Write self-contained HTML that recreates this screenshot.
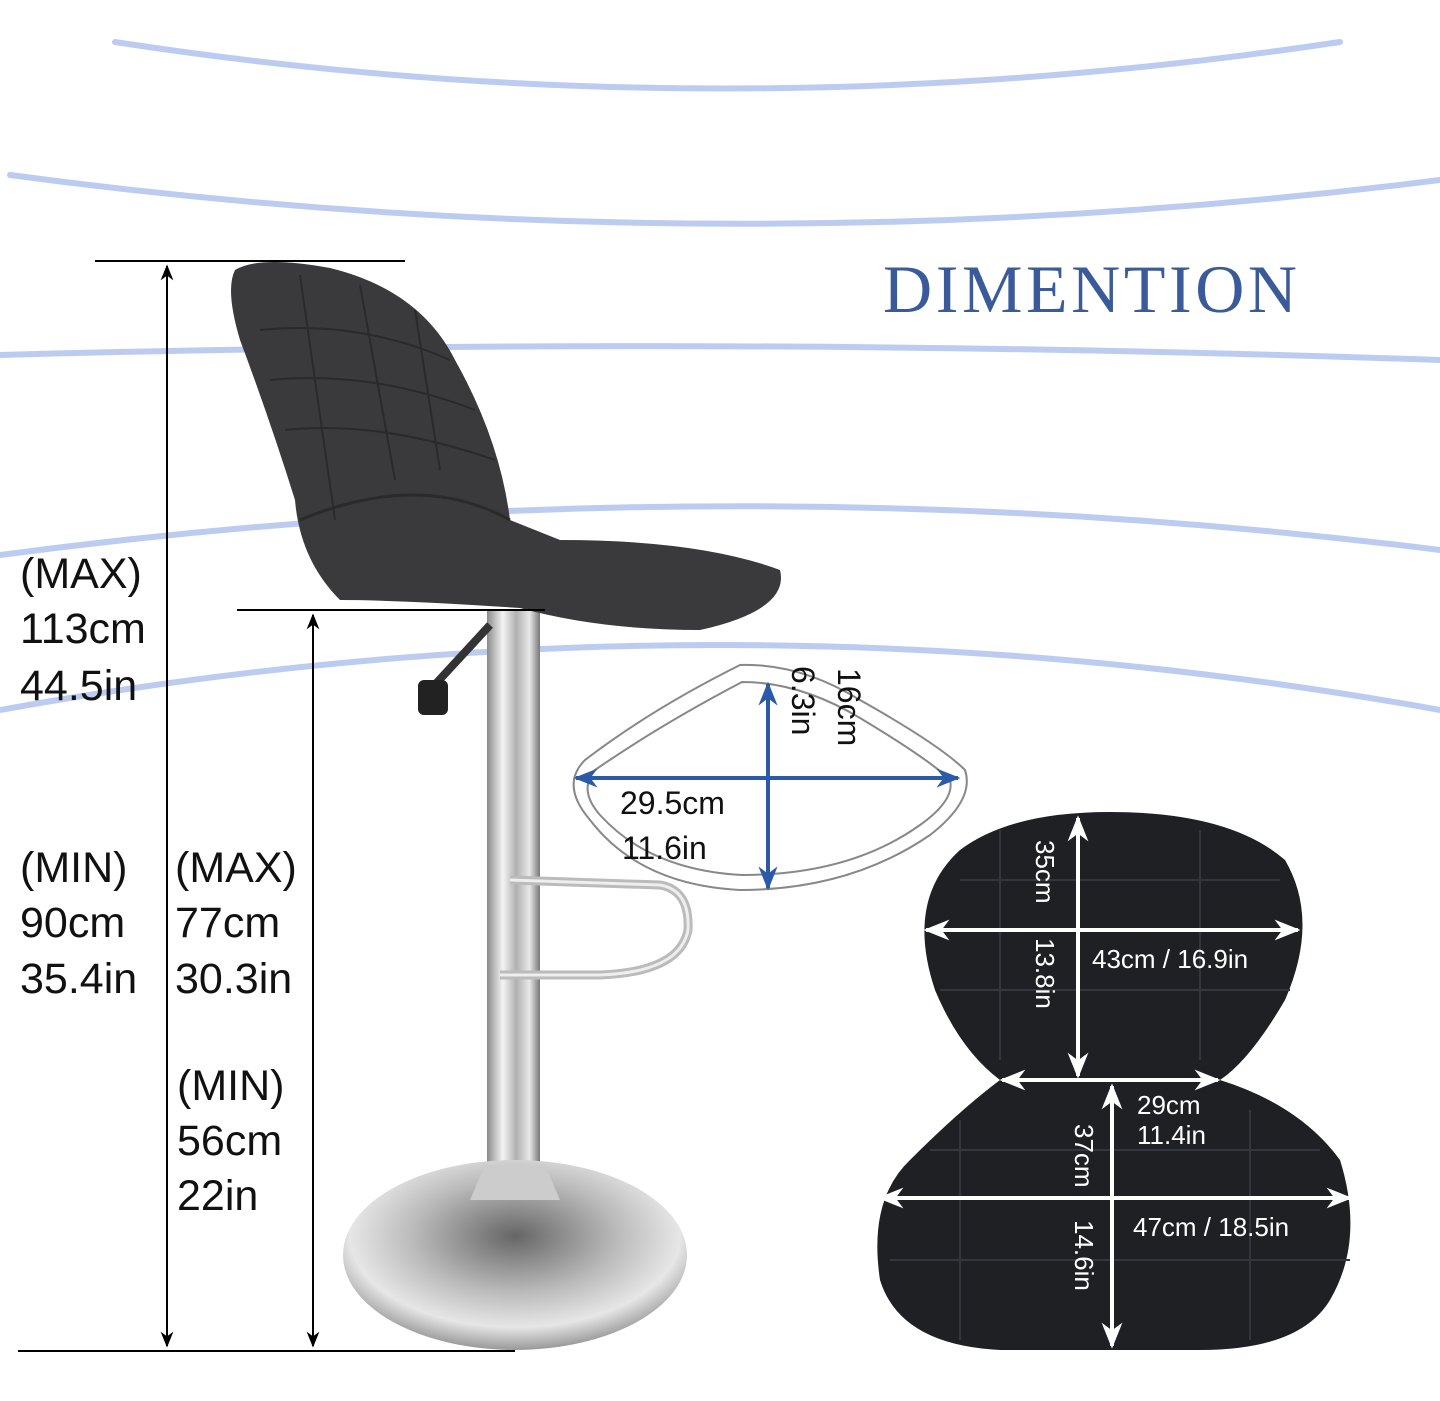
<!DOCTYPE html>
<html><head><meta charset="utf-8"><style>
html,body{margin:0;padding:0;background:#fff;}
svg{display:block;}
</style></head><body>
<svg width="1440" height="1401" viewBox="0 0 1440 1401" xmlns="http://www.w3.org/2000/svg" font-family="Liberation Sans, sans-serif">
<defs>
<linearGradient id="chrome" x1="0" x2="1" y1="0" y2="0">
<stop offset="0" stop-color="#8a8a8a"/><stop offset="0.3" stop-color="#f4f4f4"/><stop offset="0.55" stop-color="#b0b0b0"/><stop offset="0.8" stop-color="#e8e8e8"/><stop offset="1" stop-color="#777"/>
</linearGradient>
<radialGradient id="base" cx="0.5" cy="0.4" r="0.6">
<stop offset="0" stop-color="#666"/><stop offset="0.5" stop-color="#bbb"/><stop offset="0.8" stop-color="#e6e6e6"/><stop offset="1" stop-color="#999"/>
</radialGradient>
<marker id="ak" viewBox="0 0 10 10" refX="9" refY="5" markerWidth="8" markerHeight="8" orient="auto-start-reverse"><path d="M0,1 L10,5 L0,9 L3,5z" fill="#000"/></marker>
<marker id="ab" viewBox="0 0 10 10" refX="9" refY="5" markerWidth="6" markerHeight="6" orient="auto-start-reverse"><path d="M0,1 L10,5 L0,9 L3,5z" fill="#2b5aa8"/></marker>
<marker id="aw" viewBox="0 0 10 10" refX="9" refY="5" markerWidth="6.5" markerHeight="6.5" orient="auto-start-reverse"><path d="M0,1 L10,5 L0,9 L3,5z" fill="#fff"/></marker>
</defs>
<g fill="none" stroke="#bccbf0" stroke-width="6" stroke-linecap="round">
<path d="M115,42 Q720,135 1340,42"/>
<path d="M10,175 Q720,270 1440,180"/>
<path d="M0,355 Q720,335 1440,360"/>
<path d="M0,555 Q720,460 1440,550"/>
<path d="M0,710 Q720,580 1440,710"/>
</g>
<text x="883" y="312" font-family="Liberation Serif, serif" font-size="68" fill="#3a5a9a" textLength="414">DIMENTION</text>

<rect x="487" y="610" width="53" height="560" fill="url(#chrome)"/>
<path d="M510,880 L660,885 Q690,890 688,930 Q680,972 600,975 L500,975" fill="none" stroke="#bbb" stroke-width="9"/>
<path d="M510,880 L660,885 Q690,890 688,930 Q680,972 600,975 L500,975" fill="none" stroke="#eee" stroke-width="3"/>
<ellipse cx="515" cy="1255" rx="172" ry="95" fill="url(#base)"/>
<path d="M485,1165 L545,1165 L560,1200 L470,1200z" fill="#ccc"/>
<path d="M490,625 L430,690" stroke="#333" stroke-width="8"/>
<rect x="418" y="680" width="30" height="35" rx="6" fill="#222"/>
<path d="M235,270 Q260,255 330,268 Q420,290 455,360 Q500,440 510,520 L560,540 Q700,540 780,570 Q790,610 700,630 Q600,630 520,608 Q400,600 340,600 Q300,560 295,500 Q270,420 240,340 Q225,290 235,270z" fill="#3a3a3c"/>
<path d="M300,520 Q420,470 510,520" fill="none" stroke="#2a2a2a" stroke-width="3"/>
<g stroke="#2a2a2c" stroke-width="2" fill="none">
<path d="M260,330 Q360,320 450,360"/><path d="M270,380 Q370,370 475,410"/><path d="M285,430 Q380,420 495,460"/>
<path d="M300,275 L335,520"/><path d="M360,285 L395,480"/><path d="M415,310 L440,470"/>
</g>

<g stroke="#000" stroke-width="2">
<line x1="95" y1="261" x2="405" y2="261"/>
<line x1="237" y1="610" x2="545" y2="610"/>
<line x1="18" y1="1351" x2="515" y2="1351"/>
<line x1="167" y1="266" x2="167" y2="1346" marker-start="url(#ak)" marker-end="url(#ak)"/>
<line x1="313" y1="615" x2="313" y2="1346" marker-start="url(#ak)" marker-end="url(#ak)"/>
</g>
<g font-size="43" fill="#111">
<text x="20" y="588">(MAX)</text><text x="20" y="643">113cm</text><text x="20" y="700">44.5in</text>
<text x="20" y="882">(MIN)</text><text x="20" y="937">90cm</text><text x="20" y="993">35.4in</text>
<text x="175" y="882">(MAX)</text><text x="175" y="937">77cm</text><text x="175" y="993">30.3in</text>
<text x="177" y="1100">(MIN)</text><text x="177" y="1155">56cm</text><text x="177" y="1210">22in</text>
</g>

<path d="M740,665 Q800,663 860,700 Q940,745 965,770 Q975,800 930,835 Q850,890 740,890 Q640,885 590,820 Q560,785 585,760 Q650,710 740,665z" fill="none" stroke="#888" stroke-width="2"/>
<path d="M742,682 Q800,682 860,718 Q930,760 950,780 Q955,800 920,825 Q850,875 742,875 Q650,870 600,815 Q578,790 595,770 Q660,725 742,682z" fill="none" stroke="#888" stroke-width="2"/>
<g stroke="#2b5aa8" stroke-width="4">
<line x1="576" y1="778" x2="958" y2="778" marker-start="url(#ab)" marker-end="url(#ab)"/>
<line x1="768" y1="684" x2="768" y2="888" marker-start="url(#ab)" marker-end="url(#ab)"/>
</g>
<g font-size="32" fill="#111">
<text x="620" y="814">29.5cm</text><text x="622" y="859">11.6in</text>
<text transform="translate(838,668) rotate(90)">16cm</text>
<text transform="translate(792,666) rotate(90)">6.3in</text>
</g>

<path d="M1110,812 Q1230,812 1285,860 Q1320,920 1285,1000 Q1250,1060 1220,1080 Q1300,1105 1340,1160 Q1365,1240 1330,1300 Q1300,1350 1200,1350 L1000,1350 Q900,1345 880,1280 Q868,1200 910,1160 Q960,1110 1000,1080 Q960,1050 935,990 Q905,900 960,850 Q1010,812 1110,812z" fill="#1e2024"/>
<g stroke="#33363c" stroke-width="2" fill="none">
<path d="M960,880 L1280,880"/><path d="M940,990 L1290,990"/><path d="M890,1260 L1350,1260"/><path d="M930,1150 L1320,1150"/>
<path d="M1000,830 L1000,1060"/><path d="M1200,830 L1200,1060"/><path d="M960,1120 L960,1340"/><path d="M1250,1110 L1250,1340"/>
</g>
<g stroke="#fff" stroke-width="4">
<line x1="1078" y1="818" x2="1078" y2="1076" marker-start="url(#aw)" marker-end="url(#aw)"/>
<line x1="926" y1="930" x2="1298" y2="930" marker-start="url(#aw)" marker-end="url(#aw)"/>
<line x1="1002" y1="1080" x2="1218" y2="1080" marker-start="url(#aw)" marker-end="url(#aw)"/>
<line x1="1112" y1="1086" x2="1112" y2="1346" marker-start="url(#aw)" marker-end="url(#aw)"/>
<line x1="880" y1="1198" x2="1350" y2="1198" marker-start="url(#aw)" marker-end="url(#aw)"/>
</g>
<g font-size="26" fill="#fff">
<text x="1092" y="968">43cm / 16.9in</text>
<text x="1137" y="1114">29cm</text><text x="1137" y="1144">11.4in</text>
<text x="1133" y="1236">47cm / 18.5in</text>
<text transform="translate(1036,840) rotate(90)">35cm</text>
<text transform="translate(1036,938) rotate(90)">13.8in</text>
<text transform="translate(1075,1124) rotate(90)">37cm</text>
<text transform="translate(1075,1220) rotate(90)">14.6in</text>
</g>
</svg>
</body></html>
